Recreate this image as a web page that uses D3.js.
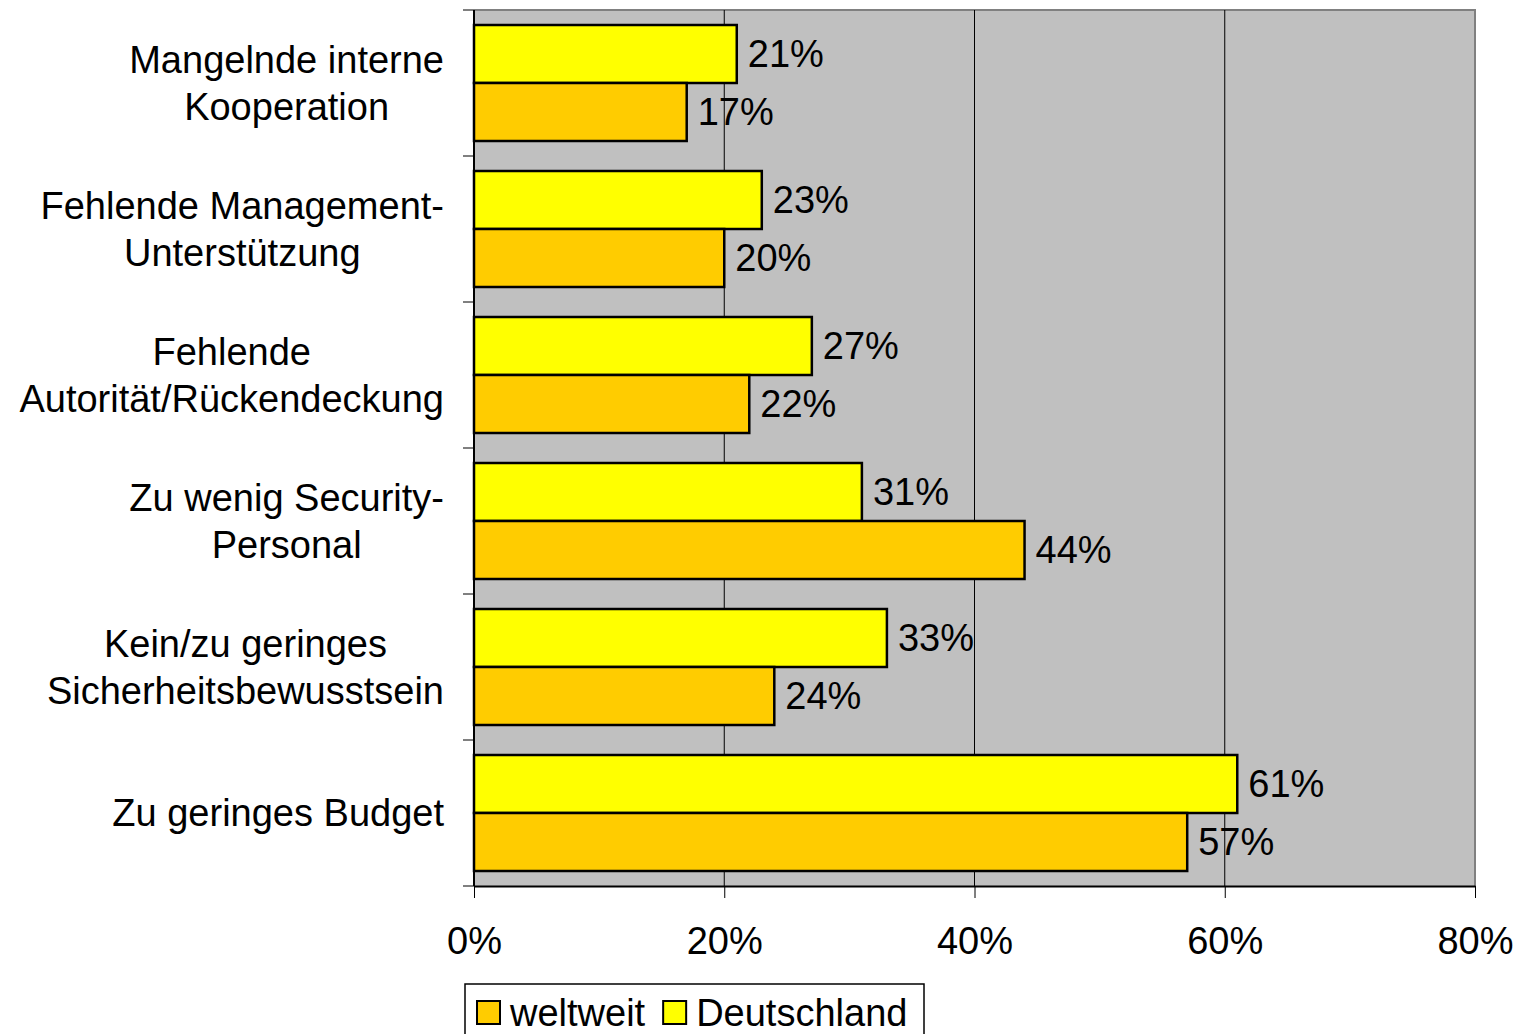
<!DOCTYPE html>
<html lang="de">
<head>
<meta charset="utf-8">
<script src="https://d3js.org/d3.v7.min.js"></script>
<title>Hindernisse</title>
<style>
  body { margin: 0; background: #fff; }
  svg { display: block; font-family: "Liberation Sans", Arial, sans-serif; }
</style>
</head>
<body>
<div id="chart"></div>
<script>
// data
const categories = [
  ["Mangelnde interne", "Kooperation"],
  ["Fehlende Management-", "Unterstützung"],
  ["Fehlende", "Autorität/Rückendeckung"],
  ["Zu wenig Security-", "Personal"],
  ["Kein/zu geringes", "Sicherheitsbewusstsein"],
  ["Zu geringes Budget"]
];
const seriesNames = ["Deutschland", "weltweit"];
const deutschland = [21, 23, 27, 31, 33, 61];
const weltweit = [17, 20, 22, 44, 24, 57];
const xTicks = [0, 20, 40, 60, 80];
const colors = { "Deutschland": "#FFFF00", "weltweit": "#FFCC00" };

const W = 1517, H = 1034;
const pLeft = 474, pRight = 1475, pTop = 10, pBottom = 886;
const FS = 38;

const svg = d3.select("#chart").append("svg").attr("width", W).attr("height", H);

const x = d3.scaleLinear().domain([0, 80]).range([pLeft, pRight]);
const yOuter = d3.scaleBand().domain(d3.range(categories.length)).range([pTop, pBottom]);
const groupH = 116;
const ySub = d3.scaleBand().domain(seriesNames).range([0, groupH]);

// plot background
svg.append("rect").attr("x", pLeft).attr("y", pTop).attr("width", pRight - pLeft).attr("height", pBottom - pTop)
  .attr("fill", "#C0C0C0");
svg.append("path").attr("d", `M${pLeft},${pTop}H${pRight}V${pBottom}`)
  .attr("fill", "none").attr("stroke", "#808080").attr("stroke-width", 2);

// gridlines
svg.append("g").selectAll("line").data(xTicks.filter(d => d > 0 && d < 80)).join("line")
  .attr("x1", d => x(d)).attr("x2", d => x(d)).attr("y1", pTop).attr("y2", pBottom)
  .attr("stroke", "#000").attr("stroke-width", 1);

// bars
const rows = categories.map((c, i) => ({ i, vals: [["Deutschland", deutschland[i]], ["weltweit", weltweit[i]]] }));
const grp = svg.append("g").selectAll("g").data(rows).join("g")
  .attr("transform", d => `translate(0,${yOuter(d.i) + (yOuter.bandwidth() - groupH) / 2})`);
grp.selectAll("rect").data(d => d.vals).join("rect")
  .attr("x", x(0)).attr("y", d => ySub(d[0]))
  .attr("width", d => x(d[1]) - x(0)).attr("height", ySub.bandwidth())
  .attr("fill", d => colors[d[0]]).attr("stroke", "#000").attr("stroke-width", 2.5);
grp.selectAll("text").data(d => d.vals).join("text")
  .attr("x", d => x(d[1]) + 11).attr("y", d => ySub(d[0]) + ySub.bandwidth() / 2)
  .attr("dy", "0.35em").attr("font-size", FS).text(d => d[1] + "%");

// axes
const xAxis = svg.append("g").attr("transform", `translate(0,${pBottom})`)
  .call(d3.axisBottom(x).tickValues(xTicks).tickSize(12).tickSizeOuter(0).tickFormat(d => d + "%"));
xAxis.select(".domain").attr("stroke-width", 2);
xAxis.selectAll("text").attr("font-size", FS).attr("font-family", "Liberation Sans, Arial, sans-serif")
  .attr("fill", "#000").attr("y", 41).attr("dy", "0.71em");

const yAxis = svg.append("g").attr("transform", `translate(${pLeft},0)`);
yAxis.append("line").attr("x1", 0).attr("x2", 0).attr("y1", pTop).attr("y2", pBottom).attr("stroke", "#000").attr("stroke-width", 2);
yAxis.selectAll(".tk").data(d3.range(categories.length + 1)).join("line")
  .attr("x1", -11).attr("x2", 0)
  .attr("y1", d => pTop + d * yOuter.step()).attr("y2", d => pTop + d * yOuter.step())
  .attr("stroke", "#000");

// category labels, centred block, right edge at 444
const lineH = 47;
categories.forEach((lines, i) => {
  const cy = yOuter(i) + yOuter.bandwidth() / 2;
  const g = svg.append("g");
  const ts = lines.map((t, k) => g.append("text").attr("font-size", FS).attr("text-anchor", "middle")
    .attr("y", cy + (k - (lines.length - 1) / 2) * lineH).attr("dy", "0.35em").text(t));
  const maxW = d3.max(ts, t => t.node().getComputedTextLength());
  ts.forEach(t => t.attr("x", 444 - maxW / 2));
});

// legend
const legend = svg.append("g").attr("transform", "translate(465,984)");
legend.append("rect").attr("x", 0).attr("y", 0).attr("width", 459).attr("height", 60)
  .attr("fill", "#fff").attr("stroke", "#000").attr("stroke-width", 1.5);
const legItems = ["weltweit", "Deutschland"];
let lx = 12;
legItems.forEach(name => {
  legend.append("rect").attr("x", lx).attr("y", 17).attr("width", 23).attr("height", 23)
    .attr("fill", colors[name]).attr("stroke", "#000").attr("stroke-width", 2);
  const t = legend.append("text").attr("x", lx + 33).attr("y", 29).attr("dy", "0.35em")
    .attr("font-size", FS).text(name);
  lx += 33 + t.node().getComputedTextLength() + 18;
});
</script>
</body>
</html>
